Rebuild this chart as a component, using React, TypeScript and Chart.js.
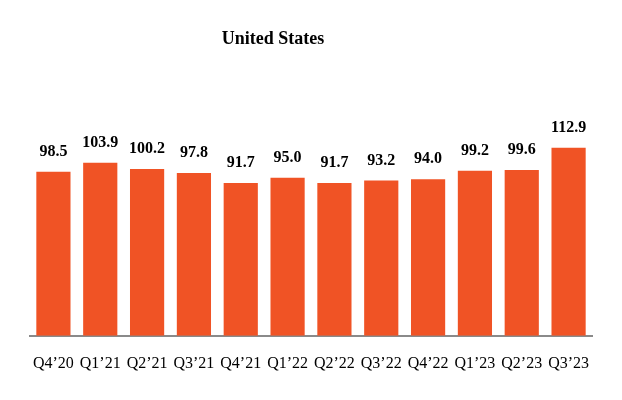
import React, { useEffect, useRef } from "react";
import { Chart, registerables } from "chart.js";

Chart.register(...registerables);

const TITLE = "United States";
const categories = ["Q4’20", "Q1’21", "Q2’21", "Q3’21", "Q4’21", "Q1’22", "Q2’22", "Q3’22", "Q4’22", "Q1’23", "Q2’23", "Q3’23"];
const values = [98.5, 103.9, 100.2, 97.8, 91.7, 95.0, 91.7, 93.2, 94.0, 99.2, 99.6, 112.9];

const BAR_COLOR = "#F05325";
const FONT = "'Liberation Serif', 'Times New Roman', serif";

export default function App() {
  const ref = useRef<HTMLCanvasElement | null>(null);
  useEffect(() => {
    if (!ref.current) return;
    const labelPlugin = {
      id: "valueLabels",
      afterDatasetsDraw(chart: any) {
        const ctx = chart.ctx;
        const meta = chart.getDatasetMeta(0);
        ctx.save();
        ctx.fillStyle = "#000";
        ctx.font = `bold 16px ${FONT}`;
        ctx.textAlign = "center";
        ctx.textBaseline = "middle";
        meta.data.forEach((el: any, i: number) => {
          ctx.fillText(values[i].toFixed(1), el.x, el.y - 20);
        });
        ctx.restore();
      },
      afterDraw(chart: any) {
        const ctx = chart.ctx;
        ctx.save();
        ctx.fillStyle = "#000";
        ctx.font = `bold 18px ${FONT}`;
        ctx.textAlign = "center";
        ctx.textBaseline = "middle";
        ctx.fillText(TITLE, 273, 39);
        ctx.restore();
      },
    };
    const chart = new Chart(ref.current, {
      type: "bar",
      data: {
        labels: categories,
        datasets: [
          {
            data: values,
            backgroundColor: BAR_COLOR,
            barPercentage: 0.73,
            categoryPercentage: 1,
          },
        ],
      },
      options: {
        responsive: false,
        animation: false,
        layout: { padding: { left: 30, right: 30, top: 136, bottom: 9 } },
        plugins: { legend: { display: false }, tooltip: { enabled: false }, title: { display: false } },
        scales: {
          x: {
            grid: { display: false, drawTicks: false },
            border: { display: true, color: "#8a8a8a", width: 2 },
            ticks: {
              color: "#000",
              font: { family: FONT, size: 16 },
              padding: 18,
              maxRotation: 0,
              autoSkip: false,
            },
          },
          y: { display: false, min: 0, max: 120 },
        },
      },
      plugins: [labelPlugin],
    });
    return () => chart.destroy();
  }, []);
  return (
    <div style={{ position: "fixed", left: 0, top: 0, width: 622, height: 400, background: "#fff" }}>
      <canvas ref={ref} width={622} height={400} style={{ width: 622, height: 400 }} />
    </div>
  );
}
